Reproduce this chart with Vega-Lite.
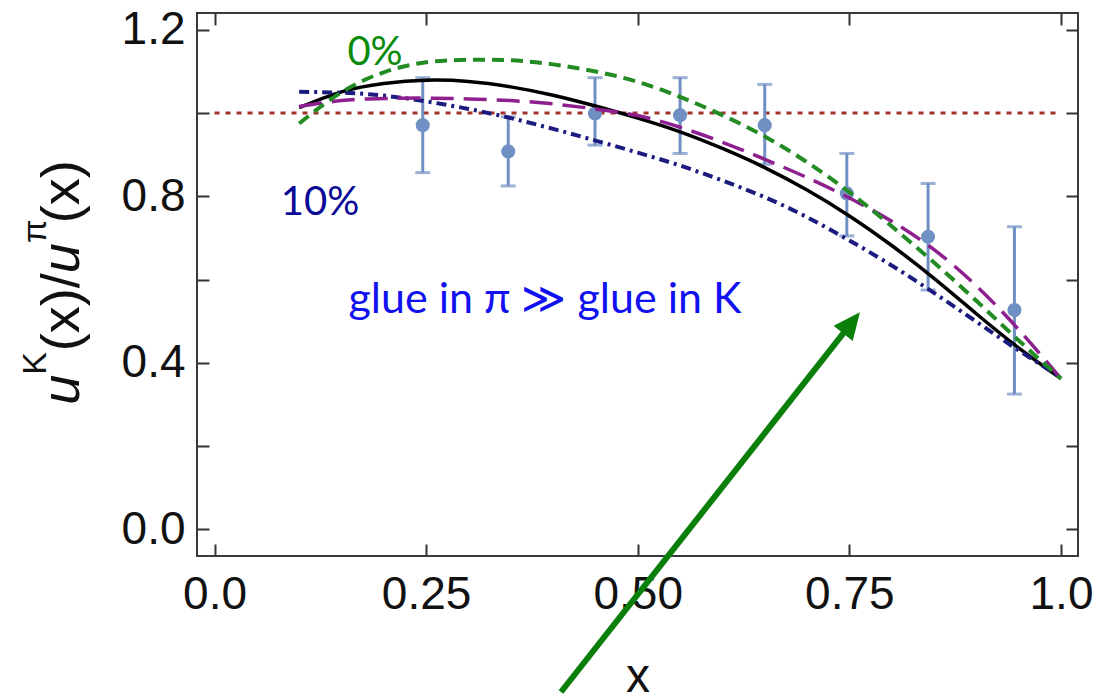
{
  "$schema": "https://vega.github.io/schema/vega-lite/v6.json",
  "width": 881,
  "height": 543,
  "autosize": {"type": "none"},
  "padding": {"left": 197, "top": 13, "right": 18, "bottom": 144},
  "background": "white",
  "config": {
    "view": {"stroke": "#3a3a3a", "strokeWidth": 2},
    "axis": {
      "grid": false,
      "domain": false,
      "tickColor": "#333333",
      "tickWidth": 2,
      "tickSize": -12,
      "labelFont": "Liberation Sans",
      "labelFontSize": 46,
      "labelColor": "#111111",
      "titleFont": "Liberation Sans",
      "titleFontWeight": "normal",
      "titleColor": "#111111"
    }
  },
  "resolve": {"axis": {"x": "independent", "y": "independent"}},
  "datasets": {
    "ref": [{"x": 0, "y": 1}, {"x": 1, "y": 1}],
    "pts": [
      {"x": 0.246, "y": 0.971, "lo": 0.857, "hi": 1.085},
      {"x": 0.347, "y": 0.908, "lo": 0.825, "hi": 0.991},
      {"x": 0.4495, "y": 0.999, "lo": 0.923, "hi": 1.085},
      {"x": 0.55, "y": 0.995, "lo": 0.903, "hi": 1.085},
      {"x": 0.65, "y": 0.971, "lo": 0.877, "hi": 1.069},
      {"x": 0.747, "y": 0.807, "lo": 0.705, "hi": 0.903},
      {"x": 0.843, "y": 0.703, "lo": 0.575, "hi": 0.831},
      {"x": 0.945, "y": 0.527, "lo": 0.325, "hi": 0.727}
    ],
    "curves": [
      {"c": "black", "x": 0.10, "y": 1.013}, {"c": "black", "x": 0.15, "y": 1.051}, {"c": "black", "x": 0.20, "y": 1.071}, {"c": "black", "x": 0.25, "y": 1.079}, {"c": "black", "x": 0.30, "y": 1.076}, {"c": "black", "x": 0.35, "y": 1.063}, {"c": "black", "x": 0.40, "y": 1.043}, {"c": "black", "x": 0.45, "y": 1.017}, {"c": "black", "x": 0.50, "y": 0.988}, {"c": "black", "x": 0.55, "y": 0.955}, {"c": "black", "x": 0.60, "y": 0.915}, {"c": "black", "x": 0.65, "y": 0.869}, {"c": "black", "x": 0.70, "y": 0.815}, {"c": "black", "x": 0.75, "y": 0.753}, {"c": "black", "x": 0.80, "y": 0.682}, {"c": "black", "x": 0.85, "y": 0.603}, {"c": "black", "x": 0.90, "y": 0.518}, {"c": "black", "x": 0.95, "y": 0.436}, {"c": "black", "x": 1.00, "y": 0.362},
      {"c": "green", "x": 0.10, "y": 0.975}, {"c": "green", "x": 0.15, "y": 1.050}, {"c": "green", "x": 0.20, "y": 1.098}, {"c": "green", "x": 0.25, "y": 1.122}, {"c": "green", "x": 0.30, "y": 1.128}, {"c": "green", "x": 0.35, "y": 1.127}, {"c": "green", "x": 0.40, "y": 1.117}, {"c": "green", "x": 0.45, "y": 1.100}, {"c": "green", "x": 0.50, "y": 1.075}, {"c": "green", "x": 0.55, "y": 1.039}, {"c": "green", "x": 0.60, "y": 0.995}, {"c": "green", "x": 0.65, "y": 0.944}, {"c": "green", "x": 0.70, "y": 0.882}, {"c": "green", "x": 0.75, "y": 0.810}, {"c": "green", "x": 0.80, "y": 0.728}, {"c": "green", "x": 0.85, "y": 0.641}, {"c": "green", "x": 0.90, "y": 0.549}, {"c": "green", "x": 0.95, "y": 0.454}, {"c": "green", "x": 1.00, "y": 0.362},
      {"c": "purple", "x": 0.10, "y": 1.016}, {"c": "purple", "x": 0.15, "y": 1.030}, {"c": "purple", "x": 0.20, "y": 1.035}, {"c": "purple", "x": 0.25, "y": 1.036}, {"c": "purple", "x": 0.30, "y": 1.034}, {"c": "purple", "x": 0.35, "y": 1.030}, {"c": "purple", "x": 0.40, "y": 1.022}, {"c": "purple", "x": 0.45, "y": 1.010}, {"c": "purple", "x": 0.50, "y": 0.994}, {"c": "purple", "x": 0.55, "y": 0.966}, {"c": "purple", "x": 0.60, "y": 0.930}, {"c": "purple", "x": 0.65, "y": 0.889}, {"c": "purple", "x": 0.70, "y": 0.845}, {"c": "purple", "x": 0.75, "y": 0.796}, {"c": "purple", "x": 0.80, "y": 0.740}, {"c": "purple", "x": 0.85, "y": 0.672}, {"c": "purple", "x": 0.90, "y": 0.585}, {"c": "purple", "x": 0.95, "y": 0.480}, {"c": "purple", "x": 1.00, "y": 0.362},
      {"c": "navy", "x": 0.10, "y": 1.051}, {"c": "navy", "x": 0.15, "y": 1.049}, {"c": "navy", "x": 0.20, "y": 1.042}, {"c": "navy", "x": 0.25, "y": 1.028}, {"c": "navy", "x": 0.30, "y": 1.010}, {"c": "navy", "x": 0.35, "y": 0.988}, {"c": "navy", "x": 0.40, "y": 0.962}, {"c": "navy", "x": 0.45, "y": 0.934}, {"c": "navy", "x": 0.50, "y": 0.905}, {"c": "navy", "x": 0.55, "y": 0.874}, {"c": "navy", "x": 0.60, "y": 0.838}, {"c": "navy", "x": 0.65, "y": 0.798}, {"c": "navy", "x": 0.70, "y": 0.750}, {"c": "navy", "x": 0.75, "y": 0.694}, {"c": "navy", "x": 0.80, "y": 0.634}, {"c": "navy", "x": 0.85, "y": 0.568}, {"c": "navy", "x": 0.90, "y": 0.499}, {"c": "navy", "x": 0.95, "y": 0.430}, {"c": "navy", "x": 1.00, "y": 0.365}
    ],
    "arrow": [{"x": 0.4093, "y": -0.3906, "x2": 0.7530, "y2": 0.4972}],
    "head": [{"x": 0.7625, "y": 0.5217}],
    "notes": [
      {"t": "0%", "x": 0.1896, "y": 1.1436},
      {"t": "10%", "x": 0.1246, "y": 0.7834},
      {"t": "glue in π ≫ glue in K", "x": 0.3904, "y": 0.5506}
    ],
    "ytitle": [
      {"t": "u", "k": "it", "x": -0.1601, "y": 0.2996},
      {"t": "K", "k": "sup", "x": -0.1990, "y": 0.3717},
      {"t": "(x)/", "k": "main", "x": -0.1601, "y": 0.4281},
      {"t": "u", "k": "it", "x": -0.1601, "y": 0.6154},
      {"t": "π", "k": "sup", "x": -0.1990, "y": 0.6878},
      {"t": "(x)", "k": "main", "x": -0.1601, "y": 0.7354}
    ]
  },
  "layer": [
    {
      "data": {"name": "ref"},
      "mark": {"type": "line", "color": "#A3322B", "strokeWidth": 3, "strokeDash": [5, 6]},
      "encoding": {
        "x": {"field": "x", "type": "quantitative", "scale": {"domain": [-0.0207, 1.0201], "nice": false, "zero": false},
          "axis": {"orient": "bottom", "values": [0, 0.25, 0.5, 0.75, 1], "labelPadding": 28, "labelExpr": "datum.value == 0 ? '0.0' : datum.value == 1 ? '1.0' : format(datum.value, '.2f')", "title": "x", "titleFontSize": 48, "titlePadding": 36}},
        "y": {"field": "y", "type": "quantitative", "scale": {"domain": [-0.0639, 1.2404], "nice": false, "zero": false},
          "axis": {"orient": "left", "values": [0, 0.2, 0.4, 0.6, 0.8, 1.0, 1.2], "labelPadding": 24, "labelExpr": "round(datum.value * 10) % 4 == 0 ? format(datum.value, '.1f') : ''", "title": null}}
      }
    },
    {
      "data": {"name": "pts"},
      "mark": {"type": "rule", "color": "#7090C4", "strokeWidth": 3},
      "encoding": {
        "x": {"field": "x", "type": "quantitative", "scale": {"domain": [-0.0207, 1.0201], "nice": false, "zero": false},
          "axis": {"orient": "top", "values": [0, 0.25, 0.5, 0.75, 1], "labels": false, "title": null}},
        "y": {"field": "lo", "type": "quantitative", "scale": {"domain": [-0.0639, 1.2404], "nice": false, "zero": false},
          "axis": {"orient": "right", "values": [0, 0.2, 0.4, 0.6, 0.8, 1.0, 1.2], "labels": false, "title": null}},
        "y2": {"field": "hi"}
      }
    },
    {
      "data": {"name": "pts"},
      "mark": {"type": "tick", "orient": "horizontal", "color": "#7090C4", "size": 15, "thickness": 3},
      "encoding": {
        "x": {"field": "x", "type": "quantitative", "axis": null},
        "y": {"field": "lo", "type": "quantitative", "axis": null}
      }
    },
    {
      "data": {"name": "pts"},
      "mark": {"type": "tick", "orient": "horizontal", "color": "#7090C4", "size": 15, "thickness": 3},
      "encoding": {
        "x": {"field": "x", "type": "quantitative", "axis": null},
        "y": {"field": "hi", "type": "quantitative", "axis": null}
      }
    },
    {
      "data": {"name": "pts"},
      "mark": {"type": "point", "filled": true, "color": "#7090C4", "size": 200, "opacity": 1},
      "encoding": {
        "x": {"field": "x", "type": "quantitative", "axis": null},
        "y": {"field": "y", "type": "quantitative", "axis": null}
      }
    },
    {
      "data": {"name": "curves"},
      "transform": [{"filter": "datum.c == 'black'"}],
      "mark": {"type": "line", "color": "#000000", "strokeWidth": 3.5, "interpolate": "natural"},
      "encoding": {
        "x": {"field": "x", "type": "quantitative", "axis": null},
        "y": {"field": "y", "type": "quantitative", "axis": null}
      }
    },
    {
      "data": {"name": "curves"},
      "transform": [{"filter": "datum.c == 'navy'"}],
      "mark": {"type": "line", "color": "#1B1B80", "strokeWidth": 4, "strokeDash": [10, 5, 3, 5], "interpolate": "natural"},
      "encoding": {
        "x": {"field": "x", "type": "quantitative", "axis": null},
        "y": {"field": "y", "type": "quantitative", "axis": null}
      }
    },
    {
      "data": {"name": "curves"},
      "transform": [{"filter": "datum.c == 'purple'"}],
      "mark": {"type": "line", "color": "#8E1F8E", "strokeWidth": 3.5, "strokeDash": [23, 10], "interpolate": "natural"},
      "encoding": {
        "x": {"field": "x", "type": "quantitative", "axis": null},
        "y": {"field": "y", "type": "quantitative", "axis": null}
      }
    },
    {
      "data": {"name": "curves"},
      "transform": [{"filter": "datum.c == 'green'"}],
      "mark": {"type": "line", "color": "#228B22", "strokeWidth": 4, "strokeDash": [12, 7], "interpolate": "natural"},
      "encoding": {
        "x": {"field": "x", "type": "quantitative", "axis": null},
        "y": {"field": "y", "type": "quantitative", "axis": null}
      }
    },
    {
      "data": {"name": "arrow"},
      "mark": {"type": "rule", "color": "#0A7F0A", "strokeWidth": 6, "strokeCap": "butt"},
      "encoding": {
        "x": {"field": "x", "type": "quantitative", "axis": null},
        "y": {"field": "y", "type": "quantitative", "axis": null},
        "x2": {"field": "x2"},
        "y2": {"field": "y2"}
      }
    },
    {
      "data": {"name": "head"},
      "mark": {"type": "point", "shape": "M0,0L-0.9,2L0.9,2Z", "filled": true, "color": "#0A7F0A", "size": 729, "angle": 38.4, "opacity": 1, "strokeWidth": 0},
      "encoding": {
        "x": {"field": "x", "type": "quantitative", "axis": null},
        "y": {"field": "y", "type": "quantitative", "axis": null}
      }
    },
    {
      "data": {"name": "notes"},
      "transform": [{"filter": "datum.t == '0%'"}],
      "mark": {"type": "text", "font": "Lato", "fontSize": 40, "color": "#0A8A0A", "align": "center", "baseline": "middle"},
      "encoding": {
        "x": {"field": "x", "type": "quantitative", "axis": null},
        "y": {"field": "y", "type": "quantitative", "axis": null},
        "text": {"field": "t"}
      }
    },
    {
      "data": {"name": "notes"},
      "transform": [{"filter": "datum.t == '10%'"}],
      "mark": {"type": "text", "font": "Lato", "fontSize": 40, "color": "#0A0A96", "align": "center", "baseline": "middle"},
      "encoding": {
        "x": {"field": "x", "type": "quantitative", "axis": null},
        "y": {"field": "y", "type": "quantitative", "axis": null},
        "text": {"field": "t"}
      }
    },
    {
      "data": {"name": "notes"},
      "transform": [{"filter": "length(datum.t) > 4"}],
      "mark": {"type": "text", "font": "Lato", "fontSize": 43, "color": "#1010F0", "align": "center", "baseline": "middle"},
      "encoding": {
        "x": {"field": "x", "type": "quantitative", "axis": null},
        "y": {"field": "y", "type": "quantitative", "axis": null},
        "text": {"field": "t"}
      }
    },
    {
      "data": {"name": "ytitle"},
      "transform": [{"filter": "datum.k == 'it'"}],
      "mark": {"type": "text", "font": "Liberation Sans", "fontSize": 54, "fontStyle": "italic", "color": "#111111", "align": "left", "baseline": "alphabetic", "angle": 270},
      "encoding": {
        "x": {"field": "x", "type": "quantitative", "axis": null},
        "y": {"field": "y", "type": "quantitative", "axis": null},
        "text": {"field": "t"}
      }
    },
    {
      "data": {"name": "ytitle"},
      "transform": [{"filter": "datum.k == 'main'"}],
      "mark": {"type": "text", "font": "Liberation Sans", "fontSize": 54, "color": "#111111", "align": "left", "baseline": "alphabetic", "angle": 270},
      "encoding": {
        "x": {"field": "x", "type": "quantitative", "axis": null},
        "y": {"field": "y", "type": "quantitative", "axis": null},
        "text": {"field": "t"}
      }
    },
    {
      "data": {"name": "ytitle"},
      "transform": [{"filter": "datum.k == 'sup'"}],
      "mark": {"type": "text", "font": "Liberation Sans", "fontSize": 34, "color": "#111111", "align": "left", "baseline": "alphabetic", "angle": 270},
      "encoding": {
        "x": {"field": "x", "type": "quantitative", "axis": null},
        "y": {"field": "y", "type": "quantitative", "axis": null},
        "text": {"field": "t"}
      }
    }
  ]
}
